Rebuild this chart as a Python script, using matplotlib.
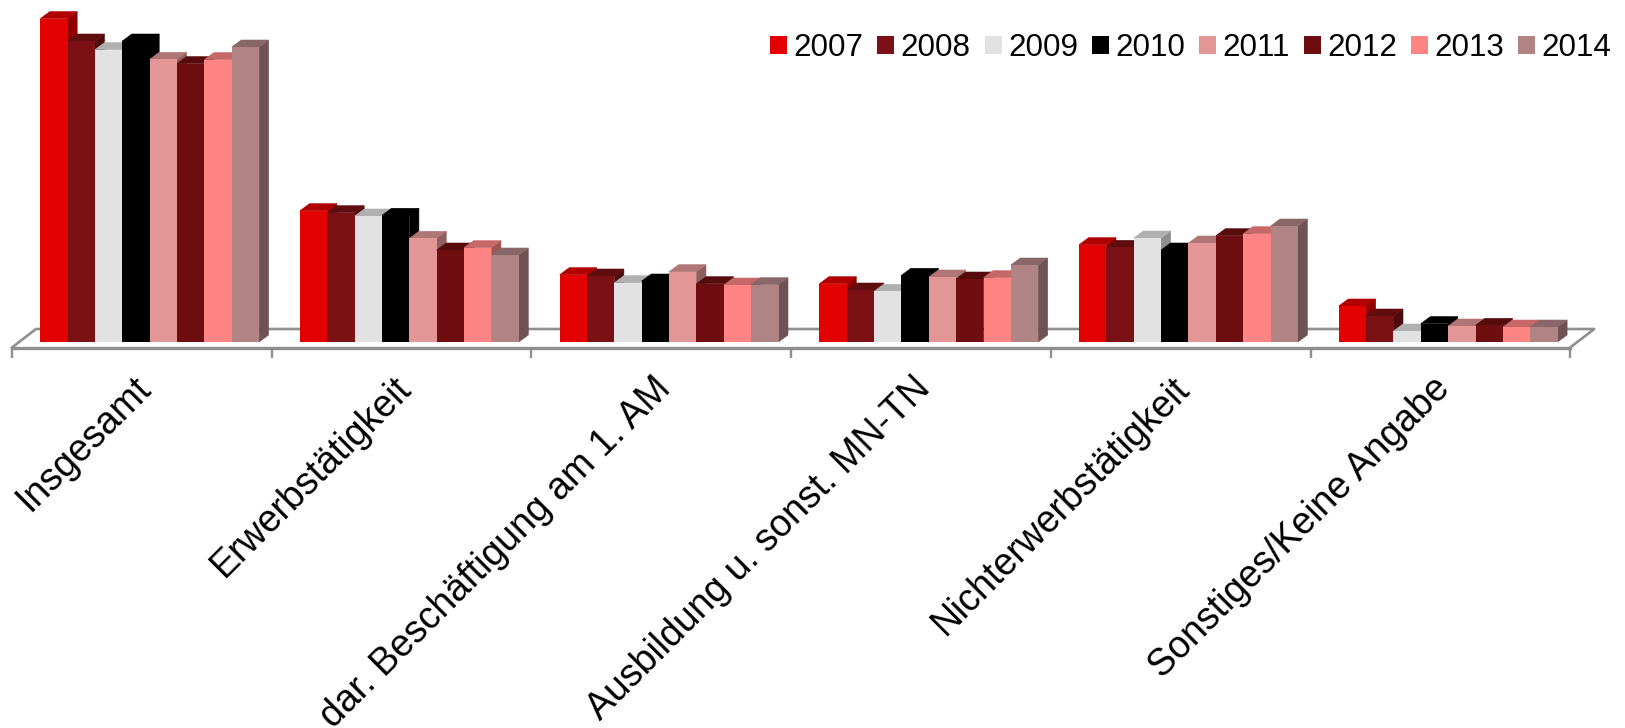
import numpy as np
import matplotlib
matplotlib.use('Agg')
from matplotlib import pyplot as plt
from matplotlib.patches import Patch, Polygon

plt.rcParams['font.family'] = ['Liberation Sans', 'DejaVu Sans']

kategorien = ['Insgesamt', 'Erwerbstätigkeit', 'dar. Beschäftigung am 1. AM',
              'Ausbildung u. sonst. MN-TN', 'Nichterwerbstätigkeit',
              'Sonstiges/Keine Angabe']
jahre = ['2007', '2008', '2009', '2010', '2011', '2012', '2013', '2014']

# keine y-Achse im Original
w2007 = [323.4, 131.3, 67.3, 58.3, 97.3, 36.0]
w2008 = [301.0, 129.3, 66.0, 52.0, 94.7, 26.0]
w2009 = [292.4, 126.0, 59.3, 50.7, 104.0, 11.0]
w2010 = [301.0, 126.7, 61.0, 66.7, 92.0, 18.4]
w2011 = [282.7, 103.7, 70.3, 65.0, 99.0, 16.0]
w2012 = [278.4, 92.0, 58.3, 63.0, 106.3, 16.7]
w2013 = [282.4, 94.3, 57.0, 64.3, 108.3, 15.0]
w2014 = [295.0, 87.0, 57.3, 77.0, 116.0, 15.0]
werte = [w2007, w2008, w2009, w2010, w2011, w2012, w2013, w2014]

farben = ['#E30000', '#7B1114', '#E2E2E2', '#000000',
          '#E29696', '#6F0E10', '#FF8585', '#B08385']


def abdunkeln(farbe, faktor):
    rgb = np.array(matplotlib.colors.to_rgb(farbe))
    return tuple(rgb * faktor)


def main():
    fig = plt.figure(figsize=(16.25, 7.28), dpi=100)
    ax = fig.add_axes([0, 0, 1, 1])

    abstand = 259.7  # Pixel pro Gruppe
    ax.set_xlim(-12 / abstand, (1625 - 12) / abstand)
    ax.set_ylim(342 - 728, 342)
    ax.axis('off')

    breite = 27.35 / abstand
    start = 28.3 / abstand
    tiefe_x = 9.5 / abstand
    tiefe_y = 7

    # Boden
    n = len(kategorien)
    grau = '#8F8F8F'
    boden_x = 24 / abstand
    ax.plot([0, boden_x, n + boden_x, n], [-5.5, 13, 13, -5.5], color=grau, lw=1.9, zorder=1)
    ax.plot([0, n], [-5.5, -5.5], color=grau, lw=2.4, zorder=1)
    ax.vlines(np.arange(n + 1), -16, -5.5, color=grau, lw=1.7, zorder=1)

    # Balken von links nach rechts, die Front deckt die Seite des Vorgaengers
    z = 2
    for g in range(n):
        for s in range(len(jahre)):
            x = g + start + s * breite
            h = werte[s][g]
            f = farben[s]
            f_seite = abdunkeln(f, 0.63)
            f_oben = abdunkeln(f, 0.78)
            seite = Polygon([(x + breite, 0), (x + breite + tiefe_x, tiefe_y),
                             (x + breite + tiefe_x, h + tiefe_y), (x + breite, h)],
                            fc=f_seite, ec=f_seite, lw=0.4, zorder=z)
            oben = Polygon([(x, h), (x + tiefe_x, h + tiefe_y),
                            (x + breite + tiefe_x, h + tiefe_y), (x + breite, h)],
                           fc=f_oben, ec=f_oben, lw=0.4, zorder=z)
            ax.add_patch(seite)
            ax.add_patch(oben)
            ax.bar(x, h, breite, align='edge', color=f, zorder=z + 1)
            z += 2

    # Beschriftung
    for g in range(n):
        ax.text(g + 0.5 + 4 / abstand, -41, kategorien[g], rotation=45, rotation_mode='anchor',
                ha='right', va='center', fontsize=27, color='black', clip_on=True)

    griffe = [Patch(fc=farben[s], ec='none', label=jahre[s]) for s in range(len(jahre))]
    fig.legend(handles=griffe, loc='upper left', bbox_to_anchor=(770 / 1625, 1 - 33.5 / 728),
               ncol=8, frameon=False, fontsize=22.6, borderpad=0, borderaxespad=0,
               handlelength=0.54, handleheight=0.51, handletextpad=0.2,
               columnspacing=0.45, labelspacing=0)

    plt.savefig('out.png', dpi=100)


if __name__ == '__main__':
    main()
